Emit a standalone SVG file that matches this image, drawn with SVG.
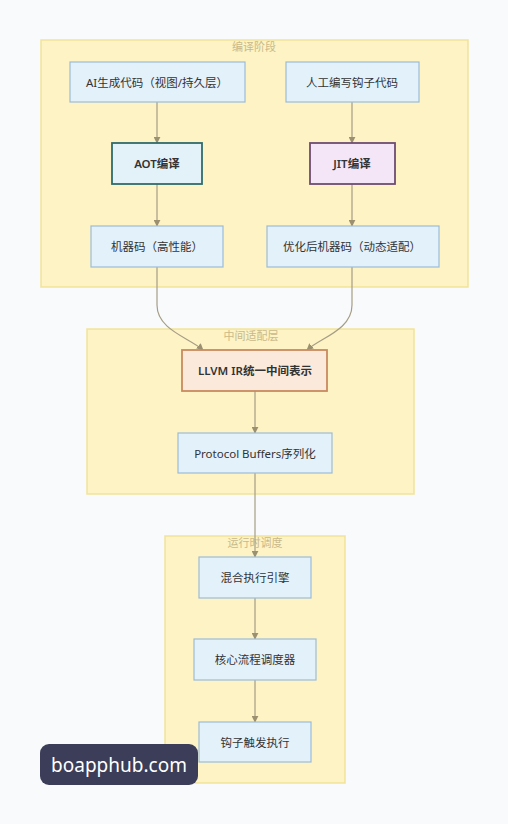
<svg xmlns="http://www.w3.org/2000/svg" width="508" height="824" viewBox="0 0 508 824">
<defs>
<style>
.cl{fill:#fdf3c4;stroke:#f1e39a;stroke-width:1.5}
.ct{font-family:"Noto Sans CJK SC","Noto Sans",sans-serif;font-size:11px;fill:#c9b98a;text-anchor:middle}
.n{fill:#e3f1fb;stroke:#9dbcd6;stroke-width:1.2}
.t{font-family:"Noto Sans","Noto Sans CJK SC",sans-serif;font-size:11.5px;fill:#333;text-anchor:middle;dominant-baseline:central}
.b{font-weight:600}
.e{fill:none;stroke:#a69d86;stroke-width:1.2}
</style>
<marker id="ah" viewBox="0 0 10 10" refX="9" refY="5" markerWidth="7" markerHeight="7" orient="auto" markerUnits="userSpaceOnUse">
<path d="M0,0L10,5L0,10z" fill="#9b9070"/>
</marker>
</defs>
<rect width="508" height="824" fill="#f8fafb"/>
<g id="cluster-compile">
<rect class="cl" x="41" y="40" width="427" height="247"/>
<text class="ct" x="254" y="51">编译阶段</text>
</g>
<g id="cluster-middle">
<rect class="cl" x="87" y="329" width="327" height="165"/>
<text class="ct" x="251" y="340">中间适配层</text>
</g>
<g id="cluster-runtime">
<rect class="cl" x="165" y="536" width="180" height="247"/>
<text class="ct" x="255" y="547">运行时调度</text>
</g>
<g id="edges">
<path class="e" d="M157,102V143" marker-end="url(#ah)"/>
<path class="e" d="M352,102V143" marker-end="url(#ah)"/>
<path class="e" d="M157,184V226" marker-end="url(#ah)"/>
<path class="e" d="M352,184V226" marker-end="url(#ah)"/>
<path class="e" d="M157,267V305C157,330 190,338 203,350" marker-end="url(#ah)"/>
<path class="e" d="M352,267V305C352,330 320,338 307,350" marker-end="url(#ah)"/>
<path class="e" d="M255,391V433" marker-end="url(#ah)"/>
<path class="e" d="M255,473V557" marker-end="url(#ah)"/>
<path class="e" d="M255,598V639" marker-end="url(#ah)"/>
<path class="e" d="M255,680V722" marker-end="url(#ah)"/>
</g>
<g id="n-ai"><rect class="n" x="70" y="62" width="175" height="40"/><text class="t" x="157" y="82">AI生成代码（视图/持久层）</text></g>
<g id="n-human"><rect class="n" x="286" y="62" width="133" height="40"/><text class="t" x="352" y="82">人工编写钩子代码</text></g>
<g id="n-aot"><rect x="112" y="143" width="90" height="41" fill="#e3f2f8" stroke="#2f6b6b" stroke-width="1.8"/><text class="t b" x="157" y="163.5">AOT编译</text></g>
<g id="n-jit"><rect x="310" y="143" width="85" height="41" fill="#f4e6f6" stroke="#6e4d72" stroke-width="1.8"/><text class="t b" x="352" y="163.5">JIT编译</text></g>
<g id="n-mc"><rect class="n" x="91" y="226" width="132" height="41"/><text class="t" x="157" y="246.5">机器码（高性能）</text></g>
<g id="n-opt"><rect class="n" x="267" y="226" width="172" height="41"/><text class="t" x="352" y="246.5">优化后机器码（动态适配）</text></g>
<g id="n-llvm"><rect x="182" y="350" width="145" height="41" fill="#fbeadb" stroke="#c98a5e" stroke-width="1.8"/><text class="t b" x="255" y="370.5">LLVM IR统一中间表示</text></g>
<g id="n-pb"><rect class="n" x="178" y="433" width="154" height="40"/><text class="t" x="255" y="453">Protocol Buffers序列化</text></g>
<g id="n-mix"><rect class="n" x="199" y="557" width="112" height="41"/><text class="t" x="255" y="577.5">混合执行引擎</text></g>
<g id="n-core"><rect class="n" x="194" y="639" width="122" height="41"/><text class="t" x="255" y="659.5">核心流程调度器</text></g>
<g id="n-hook"><rect class="n" x="199" y="722" width="112" height="40"/><text class="t" x="255" y="742">钩子触发执行</text></g>
<g id="watermark">
<rect x="40" y="744" width="158" height="41" rx="9" fill="#3c3d58"/>
<text x="119" y="765" font-family="Noto Sans, sans-serif" font-size="19" fill="#ffffff" text-anchor="middle" dominant-baseline="central">boapphub.com</text>
</g>
</svg>
